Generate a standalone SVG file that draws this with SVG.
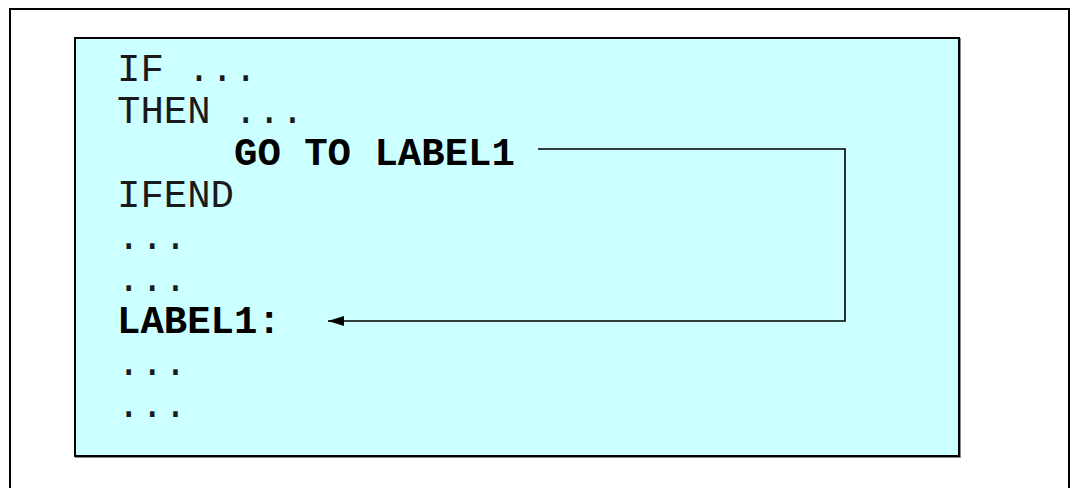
<svg xmlns="http://www.w3.org/2000/svg" width="1076" height="488" viewBox="0 0 1076 488">
<style>
.code{font-family:"Liberation Mono","Courier New",monospace;font-size:39px;fill:#1a1a1a;}
.b{font-weight:bold;fill:#000;}
.conn{fill:none;stroke:#000;stroke-width:1.6;}
</style>
<defs>
<marker id="ah" markerWidth="16" markerHeight="10" refX="16" refY="5" orient="auto" markerUnits="userSpaceOnUse">
<path d="M0,0 L16,5 L0,10 Z" fill="#000"/>
</marker>
</defs>
<rect width="1076" height="488" fill="#fff"/>
<g id="frame">
<rect x="10" y="9" width="1059" height="500" fill="none" stroke="#000" stroke-width="2"/>
</g>
<g id="codebox">
<rect x="76" y="39" width="884" height="418" fill="none" stroke="#888" stroke-width="2"/>
<rect x="75" y="38" width="884" height="418" fill="#CCFFFF" stroke="#000" stroke-width="2"/>
<text class="code" x="117" y="81" xml:space="preserve">IF ...</text>
<text class="code" x="117" y="123" xml:space="preserve">THEN ...</text>
<text id="goto" class="code b" x="234" y="165">GO TO LABEL1</text>
<text class="code" x="117" y="207">IFEND</text>
<text class="code" x="117" y="249">...</text>
<text class="code" x="117" y="291">...</text>
<text id="label1" class="code b" x="117" y="333">LABEL1:</text>
<text class="code" x="117" y="375">...</text>
<text class="code" x="117" y="417">...</text>
</g>
<g id="connectors">
<path class="conn" d="M538,149 H845 V321 H328" marker-end="url(#ah)"/>
</g>
</svg>
